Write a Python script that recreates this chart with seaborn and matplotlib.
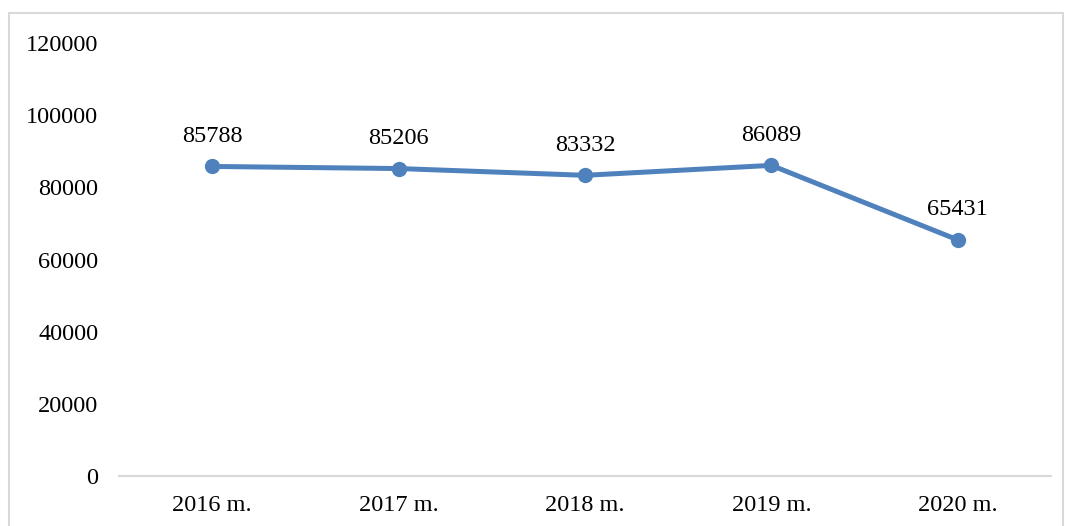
import matplotlib
matplotlib.use("Agg")
import matplotlib.pyplot as plt
from matplotlib.patches import Rectangle
import seaborn as sns
import pandas as pd

years = ["2016 m.", "2017 m.", "2018 m.", "2019 m.", "2020 m."]
values = [85788, 85206, 83332, 86089, 65431]
y_ticks = [0, 20000, 40000, 60000, 80000, 100000, 120000]

sns.set_theme(style="white")
plt.rcParams["font.family"] = ["Liberation Serif", "DejaVu Serif"]

line_color = "#4f81bd"
df = pd.DataFrame({"year": years, "value": values, "pos": range(len(years))})

W, H = 1067, 526
fig = plt.figure(figsize=(W / 100, H / 100), dpi=100)
ax = fig.add_axes([119 / W, 50 / H, (1051 - 119) / W, (476 - 43) / H])

sns.lineplot(data=df, x="pos", y="value", ax=ax, color=line_color,
             linewidth=3.6, marker="o", markersize=11,
             markeredgewidth=0, markerfacecolor=line_color)

for xi, v in zip(df["pos"], df["value"]):
    ax.annotate(str(v), (xi, v), xytext=(0, 14), textcoords="offset points",
                ha="center", va="bottom", fontsize=17.5, color="#000000")

ax.set_xlim(-0.5, len(years) - 0.5)
ax.set_ylim(0, 120000)
ax.set_xticks(range(len(years)))
ax.set_xticklabels(years)
ax.set_yticks(y_ticks)
ax.set_yticklabels([str(t) for t in y_ticks])
ax.tick_params(axis="both", length=0, labelsize=17.5, colors="#000000")
ax.tick_params(axis="y", pad=15)
ax.tick_params(axis="x", pad=14)
ax.set_xlabel("")
ax.set_ylabel("")
ax.grid(False)
for side in ["left", "right", "top"]:
    ax.spines[side].set_visible(False)
ax.spines["bottom"].set_color("#d9d9d9")
ax.spines["bottom"].set_linewidth(1.5)

# light chart-area frame
fig.patches.append(Rectangle((9 / W, -0.05), (1063 - 9) / W, (H - 13) / H + 0.05,
                             transform=fig.transFigure, fill=False,
                             edgecolor="#d9d9d9", linewidth=1.5))

fig.savefig("out.png", dpi=100)
